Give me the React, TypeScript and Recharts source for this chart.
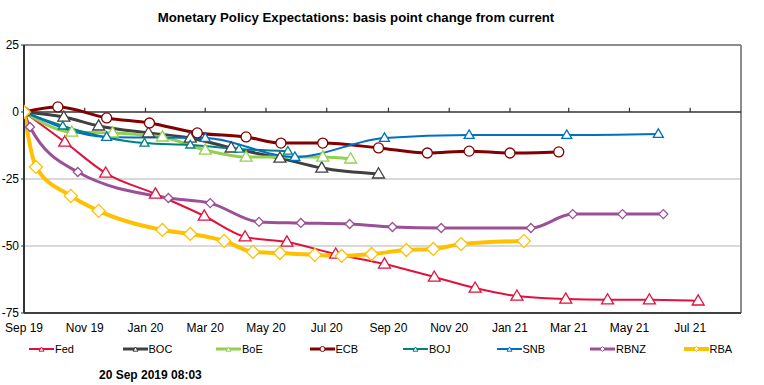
import { LineChart, Line, XAxis, YAxis, ReferenceLine } from "recharts"

// x = days since 1 Sep 2019, y = basis point change
const monthTicks = [0, 61, 122, 182, 243, 304, 366, 427, 488, 547, 608, 669]
const monthLabels = ["Sep 19", "Nov 19", "Jan 20", "Mar 20", "May 20", "Jul 20", "Sep 20", "Nov 20", "Jan 21", "Mar 21", "May 21", "Jul 21"]
const yTicks = [25, 0, -25, -50, -75]
const gridValues = [-25, -50]

const fedDays = [0, 41, 82, 132, 181, 222, 264, 313, 362, 412, 453, 495, 544, 586, 628, 677]
const fedBp = [0, -11.2, -22.8, -30.6, -38.8, -46.6, -48.5, -53.0, -56.7, -61.6, -65.7, -68.7, -69.8, -70.1, -70.1, -70.5]

const bocDays = [0, 40, 75, 125, 167, 208, 257, 299, 356]
const bocBp = [0, -1.9, -5.2, -7.8, -9.7, -13.4, -17.2, -20.9, -23.1]

const boeDays = [0, 48, 89, 139, 182, 223, 300, 328]
const boeBp = [0, -7.5, -7.8, -9.3, -14.2, -16.8, -16.8, -17.5]

const ecbDays = [0, 34, 83, 126, 174, 223, 258, 300, 356, 405, 447, 488, 537]
const ecbBp = [0, 1.9, -2.2, -4.1, -7.8, -9.3, -11.6, -11.6, -13.4, -15.3, -14.6, -15.3, -14.9]

const bojDays = [0, 39, 121, 167, 216, 265]
const bojBp = [0, -5.2, -11.6, -12.3, -13.8, -14.6]

const snbDays = [0, 83, 182, 272, 362, 447, 545, 637]
const snbBp = [0, -9.3, -9.7, -16.8, -9.7, -8.6, -8.6, -8.2]

const rbnzDays = [0, 6, 54, 145, 187, 236, 278, 327, 370, 419, 509, 551, 601, 642]
const rbnzBp = [0, -5.6, -22.4, -32.1, -34.0, -41.0, -41.4, -41.8, -42.9, -43.3, -43.3, -38.1, -38.1, -38.1]

const rbaDays = [0, 12, 47, 75, 139, 167, 201, 230, 257, 292, 319, 349, 384, 411, 439, 502]
const rbaBp = [0, -20.5, -31.3, -36.9, -44.0, -45.5, -48.1, -52.2, -52.6, -53.3, -53.7, -53.0, -51.5, -51.1, -49.3, -48.1]

const toPoints = (xs: number[], ys: number[]) => xs.map((x, i) => ({ x, y: ys[i] }))

type Shape = "triangle" | "circle" | "diamond"

const series = [
  { name: "Fed", data: toPoints(fedDays, fedBp), color: "#E2113C", width: 2, shape: "triangle" as Shape, size: 12 },
  { name: "BOC", data: toPoints(bocDays, bocBp), color: "#404040", width: 3, shape: "triangle" as Shape, size: 12 },
  { name: "BoE", data: toPoints(boeDays, boeBp), color: "#92D050", width: 3, shape: "triangle" as Shape, size: 12 },
  { name: "ECB", data: toPoints(ecbDays, ecbBp), color: "#820000", width: 3, shape: "circle" as Shape, size: 10 },
  { name: "BOJ", data: toPoints(bojDays, bojBp), color: "#008080", width: 2, shape: "triangle" as Shape, size: 9 },
  { name: "SNB", data: toPoints(snbDays, snbBp), color: "#0070C0", width: 2, shape: "triangle" as Shape, size: 10 },
  { name: "RBNZ", data: toPoints(rbnzDays, rbnzBp), color: "#9B4F96", width: 3, shape: "diamond" as Shape, size: 9 },
  { name: "RBA", data: toPoints(rbaDays, rbaBp), color: "#FFC000", width: 4, shape: "diamond" as Shape, size: 13 },
]

function MarkerShape({ shape, cx, cy, size, color, sw }: { shape: Shape; cx: number; cy: number; size: number; color: string; sw: number }) {
  if (shape === "circle") {
    return <circle cx={cx} cy={cy} r={size / 2} fill="#fff" stroke={color} strokeWidth={sw} />
  }
  if (shape === "diamond") {
    const h = size / 2
    return <polygon points={`${cx},${cy - h} ${cx + h},${cy} ${cx},${cy + h} ${cx - h},${cy}`} fill="#fff" stroke={color} strokeWidth={sw} />
  }
  const w = size / 2
  const h = size * 0.85
  return <polygon points={`${cx},${cy - h * 0.6} ${cx + w},${cy + h * 0.4} ${cx - w},${cy + h * 0.4}`} fill="#fff" stroke={color} strokeWidth={sw} />
}

const makeDot = (shape: Shape, size: number, color: string) => (p: any) => {
  const { cx, cy, index } = p
  if (cx == null || cy == null) return <g key={`d${index}`} />
  return (
    <g key={`d${index}`}>
      <MarkerShape shape={shape} cx={cx} cy={cy} size={size} color={color} sw={1.3} />
    </g>
  )
}

const tickLabel = (v: number) => monthLabels[monthTicks.indexOf(v)] ?? ""

export default function App() {
  return (
    <div
      style={{
        position: "absolute",
        left: 0,
        top: 0,
        width: 764,
        height: 385,
        background: "#fff",
        fontFamily: "'Liberation Sans', Arial, sans-serif",
        color: "#000",
      }}
    >
      <div style={{ position: "absolute", left: 0, width: 712, top: 10, textAlign: "center", fontSize: 13.2, fontWeight: "bold" }}>
        Monetary Policy Expectations: basis point change from current
      </div>
      <LineChart width={764} height={385} margin={{ top: 45, right: 23, bottom: 52, left: 0 }} style={{ position: "absolute", left: 0, top: 0 }}>
        <XAxis
          type="number"
          dataKey="x"
          domain={[0, 720]}
          ticks={monthTicks}
          interval={0}
          tickFormatter={tickLabel}
          axisLine={false}
          tickLine={false}
          tickSize={0}
          tickMargin={10}
          height={20}
          allowDataOverflow
          tick={{ fontSize: 12, fill: "#000" }}
        />
        <YAxis
          type="number"
          domain={[-75, 25]}
          ticks={yTicks}
          interval={0}
          width={24}
          axisLine={{ stroke: "#333", strokeWidth: 2 }}
          tickLine={{ stroke: "#333" }}
          tickSize={3}
          tickMargin={2}
          tick={{ fontSize: 12, fill: "#000" }}
        />
        {gridValues.map((v) => (
          <ReferenceLine key={`g${v}`} y={v} stroke="#d9d9d9" strokeWidth={2} />
        ))}
        <ReferenceLine y={25} stroke="#8c8c8c" strokeWidth={2} />
        <ReferenceLine x={720} stroke="#8c8c8c" strokeWidth={2} />
        <ReferenceLine y={-75} stroke="#404040" strokeWidth={2} />
        <ReferenceLine y={0} stroke="#333" strokeWidth={1.5} />
        {monthTicks.slice(1).map((t) => (
          <ReferenceLine key={`t${t}`} segment={[{ x: t, y: 0 }, { x: t, y: 1.6 }]} stroke="#333" strokeWidth={1.2} />
        ))}
        {series.map((s) => (
          <Line
            key={s.name}
            data={s.data}
            dataKey="y"
            name={s.name}
            type="monotone"
            stroke={s.color}
            strokeWidth={s.width}
            dot={makeDot(s.shape, s.size, s.color)}
            activeDot={false}
            isAnimationActive={false}
          />
        ))}
      </LineChart>
      <div style={{ position: "absolute", left: 29, top: 342, display: "flex", fontSize: 11 }}>
        {series.map((s) => (
          <div key={s.name} style={{ width: 93.5, display: "flex", alignItems: "center", height: 14 }}>
            <svg width={26} height={14}>
              <line x1={0} y1={7} x2={25} y2={7} stroke={s.color} strokeWidth={s.width} />
              <MarkerShape shape={s.shape} cx={12.5} cy={s.shape === "triangle" ? 7.5 : 7} size={5} color={s.color} sw={1} />
            </svg>
            <span>{s.name}</span>
          </div>
        ))}
      </div>
      <div style={{ position: "absolute", left: 99, top: 368, fontSize: 12, fontWeight: "bold" }}>20 Sep 2019 08:03</div>
    </div>
  )
}
